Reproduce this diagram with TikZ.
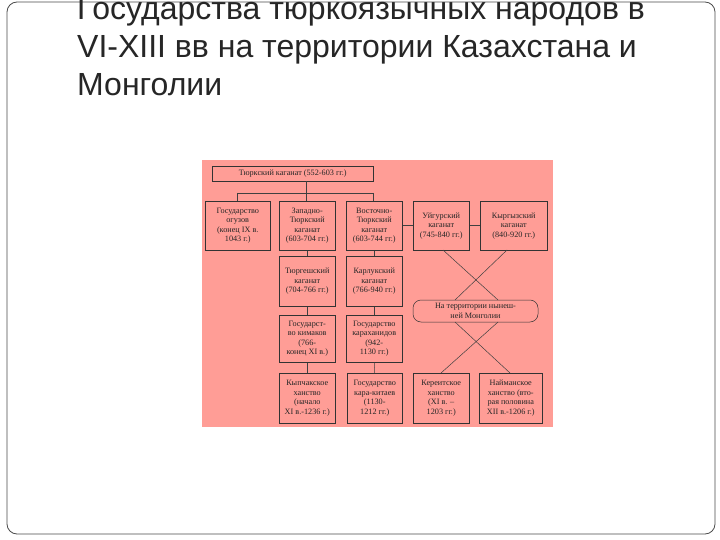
\documentclass[tikz,border=0pt]{standalone}
\usepackage{fontspec}
\setmainfont{Liberation Serif}
\newfontfamily\titlefont{Liberation Sans}
\begin{document}
\begin{tikzpicture}[x=1pt,y=-1pt,
 bx/.style={draw=black!80,line width=0.5pt,align=center,inner sep=0pt,font=\fontsize{8.2}{9.6}\selectfont,text=black!85},
 ln/.style={draw=black!75,line width=0.5pt},
 tt/.style={anchor=base west,font=\titlefont\fontsize{32}{38}\selectfont,text=black!85,inner sep=0pt}]
\useasboundingbox (0,0) rectangle (720,540);
\fill[white] (0,0) rectangle (720,540);
\draw[black!70,line width=0.8pt,rounded corners=10pt] (7,2) rectangle (715,534);
\node[tt] (t1) at (77,20) {Государства тюркоязычных народов в};
\node[tt] (t2) at (77,58) {VI-XIII вв на территории Казахстана и};
\node[tt] (t3) at (77,96) {Монголии};
\fill[red!38!white!95!orange] (202,160) rectangle (553,427);
\def\B#1#2#3#4#5{\node[bx,minimum width=#3pt,minimum height=#4pt,anchor=north west] (#1) at #2 {#5};}
\B{top}{(212,166)}{161}{15}{Тюркский каганат (552-603 гг.)}
\B{a1}{(205,201)}{65}{49}{Государство\\огузов\\(конец IX в.\\1043 г.)}
\B{a2}{(279,201)}{56}{49}{Западно-\\Тюркский\\каганат\\(603-704 гг.)}
\B{a3}{(346,201)}{56}{49}{Восточно-\\Тюркский\\каганат\\(603-744 гг.)}
\B{a4}{(413,201)}{56}{49}{Уйгурский\\каганат\\(745-840 гг.)}
\B{a5}{(480,201)}{67}{49}{Кыргызский\\каганат\\(840-920 гг.)}
\B{b2}{(279,256)}{56}{50}{Тюргешский\\каганат\\(704-766 гг.)}
\B{b3}{(346,256)}{56}{50}{Карлукский\\каганат\\(766-940 гг.)}
\B{c2}{(279,315)}{56}{47}{Государст-\\во кимаков\\(766-\\конец XI в.)}
\B{c3}{(346,315)}{56}{47}{Государство\\караханидов\\(942-\\1130 гг.)}
\B{d2}{(279,373)}{56}{50}{Кыпчакское\\ханство\\(начало\\XI в.-1236 г.)}
\B{d3}{(347,373)}{55}{50}{Государство\\кара-китаев\\(1130-\\1212 гг.)}
\B{d4}{(413,373)}{56}{50}{Кереитское\\ханство\\(XI в. --\\1203 гг.)}
\B{d5}{(479,373)}{63}{50}{Найманское\\ханство (вто-\\рая половина\\XII в.-1206 г.)}
\node[bx,draw,rounded corners=8pt,minimum width=125pt,minimum height=22pt] (ov) at (475.5,311) {На территории нынеш-\\ней Монголии};
\coordinate (h1) at (237,193); \coordinate (h3) at (373,193); \coordinate (hm) at (306,193);
\draw[ln] (top.south -| hm) -- (hm);
\draw[ln] (h1) -- (h3);
\draw[ln] (h1) -- (a1.north -| h1);
\draw[ln] (hm) -- (a2.north -| hm);
\draw[ln] (h3) -- (a3.north -| h3);
\draw[ln] (a3) -- (a4); \draw[ln] (a4) -- (a5);
\draw[ln] (a2) -- (b2); \draw[ln] (a3) -- (b3);
\draw[ln] (b2) -- (c2); \draw[ln] (b3) -- (c3);
\draw[ln] (c2) -- (d2); \draw[ln] (c3) -- (d3);
\coordinate (o1) at (498,300); \coordinate (o2) at (455,300);
\coordinate (o3) at (498,322); \coordinate (o4) at (455,322);
\draw[ln] (443,250) -- (o1); \draw[ln] (507,250) -- (o2);
\draw[ln] (o3) -- (441,373); \draw[ln] (o4) -- (510,373);
\end{tikzpicture}
\end{document}
